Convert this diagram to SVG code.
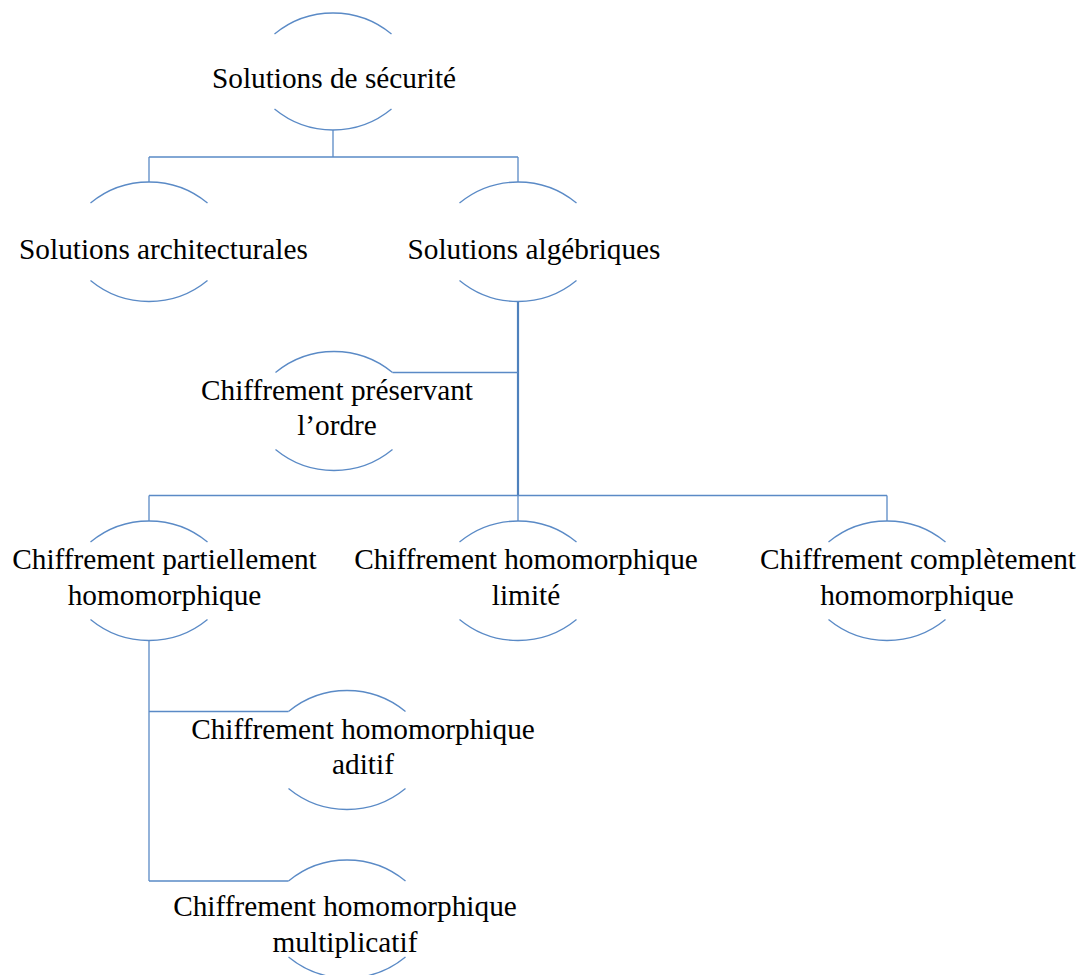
<svg xmlns="http://www.w3.org/2000/svg" width="1080" height="975" viewBox="0 0 1080 975">
  <style>
    .arc { fill: none; stroke: #5a8ac6; stroke-width: 1.3; }
    .link { fill: none; stroke: #5a8ac6; stroke-width: 1.3; }
    .trunk { fill: none; stroke: #4f81bd; stroke-width: 2.2; }
    .lbl { font-family: "Liberation Serif", "Times New Roman", serif; font-size: 29.3px; fill: #000; text-anchor: middle; }
  </style>
  <rect width="1080" height="975" fill="#ffffff"/>

  <!-- connectors -->
  <g id="connectors">
    <path class="link" d="M333,130 V157 M149,157 H518 M149,157 V182 M518,157 V182"/>
    <path class="trunk" d="M518,302 V495.5"/>
    <path class="link" d="M392.5,372.5 H518"/>
    <path class="link" d="M149,495.5 H887 M149,495.5 V521 M518,495.5 V521 M887,495.5 V521"/>
    <path class="link" d="M149,640 V881 M149,711.5 H288.5 M149,881 H288.5"/>
  </g>

  <!-- root -->
  <g id="node-securite">
    <path class="arc" d="M274.5,34 A92,92 0 0 1 391.5,34"/>
    <path class="arc" d="M274.5,109 A92,92 0 0 0 391.5,109"/>
    <text class="lbl" x="334" y="88">Solutions de sécurité</text>
  </g>

  <g id="node-architecturales">
    <path class="arc" d="M90.5,203 A92,92 0 0 1 207.5,203"/>
    <path class="arc" d="M90.5,280.5 A92,92 0 0 0 207.5,280.5"/>
    <text class="lbl" x="163.5" y="258.5">Solutions architecturales</text>
  </g>

  <g id="node-algebriques">
    <path class="arc" d="M459.5,203 A92,92 0 0 1 576.5,203"/>
    <path class="arc" d="M459.5,280.5 A92,92 0 0 0 576.5,280.5"/>
    <text class="lbl" x="534" y="258.5">Solutions algébriques</text>
  </g>

  <g id="node-ordre">
    <path class="arc" d="M275.5,372.5 A92,92 0 0 1 392.5,372.5"/>
    <path class="arc" d="M275.5,449.5 A92,92 0 0 0 392.5,449.5"/>
    <text class="lbl" x="337" y="400">Chiffrement préservant</text>
    <text class="lbl" x="337" y="435">l’ordre</text>
  </g>

  <g id="node-partiellement">
    <path class="arc" d="M90.5,542 A92,92 0 0 1 207.5,542"/>
    <path class="arc" d="M90.5,619.5 A92,92 0 0 0 207.5,619.5"/>
    <text class="lbl" x="164.5" y="568.5">Chiffrement partiellement</text>
    <text class="lbl" x="164.5" y="605">homomorphique</text>
  </g>

  <g id="node-limite">
    <path class="arc" d="M459.5,542 A92,92 0 0 1 576.5,542"/>
    <path class="arc" d="M459.5,619.5 A92,92 0 0 0 576.5,619.5"/>
    <text class="lbl" x="526" y="568.5">Chiffrement homomorphique</text>
    <text class="lbl" x="526" y="604.5">limité</text>
  </g>

  <g id="node-completement">
    <path class="arc" d="M828.5,542 A92,92 0 0 1 945.5,542"/>
    <path class="arc" d="M828.5,619.5 A92,92 0 0 0 945.5,619.5"/>
    <text class="lbl" x="918" y="569">Chiffrement complètement</text>
    <text class="lbl" x="917" y="605">homomorphique</text>
  </g>

  <g id="node-aditif">
    <path class="arc" d="M288.5,711.5 A92,92 0 0 1 405.5,711.5"/>
    <path class="arc" d="M288.5,788.5 A92,92 0 0 0 405.5,788.5"/>
    <text class="lbl" x="363" y="738.5">Chiffrement homomorphique</text>
    <text class="lbl" x="363" y="773.5">aditif</text>
  </g>

  <g id="node-multiplicatif">
    <path class="arc" d="M288.5,881 A92,92 0 0 1 405.5,881"/>
    <path class="arc" d="M288.5,957 A92,92 0 0 0 405.5,957"/>
    <text class="lbl" x="345" y="916">Chiffrement homomorphique</text>
    <text class="lbl" x="345" y="951.5">multiplicatif</text>
  </g>
</svg>
